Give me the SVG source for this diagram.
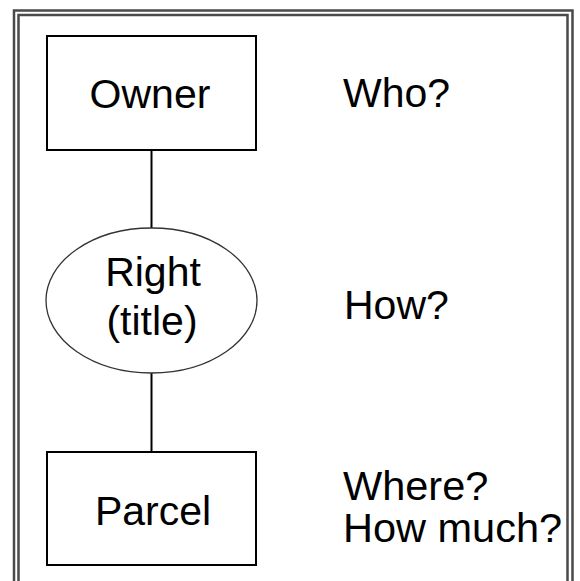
<svg xmlns="http://www.w3.org/2000/svg" width="580" height="581" viewBox="0 0 580 581">
<style>
.frame{fill:none;stroke:#4a4a4a;stroke-width:2.5}
.box{fill:#fff;stroke:#000;stroke-width:2}
.ell{fill:#fff;stroke:#333;stroke-width:1.3}
.conn{stroke:#000;stroke-width:2;fill:none}
text{font-family:"Liberation Sans",Arial,sans-serif;font-size:41px;fill:#000}
.c{text-anchor:middle}
</style>
<rect width="580" height="581" fill="#fff"/>
<g id="frame">
<path class="frame" d="M14,590 V10.5 H572.5 V590"/>
<path class="frame" d="M18.5,590 V15 H567.5 V590"/>
</g>
<g id="connectors">
<line class="conn" x1="151.5" y1="150" x2="151.5" y2="228"/>
<line class="conn" x1="151.5" y1="373" x2="151.5" y2="452"/>
</g>
<g id="owner">
<rect class="box" x="47" y="36" width="209" height="114"/>
<text class="c" x="150" y="108">Owner</text>
</g>
<g id="right">
<ellipse class="ell" cx="151.5" cy="300.5" rx="105.5" ry="72.5"/>
<text class="c" x="153" y="286">Right</text>
<text class="c" x="152" y="335">(title)</text>
</g>
<g id="parcel">
<rect class="box" x="47" y="452" width="209" height="113"/>
<text class="c" x="153" y="525">Parcel</text>
</g>
<g id="labels">
<text x="343" y="107">Who?</text>
<text x="344" y="319">How?</text>
<text x="343" y="500" style="font-size:41.5px">Where?</text>
<text x="343" y="542" style="font-size:41.5px">How much?</text>
</g>
</svg>
